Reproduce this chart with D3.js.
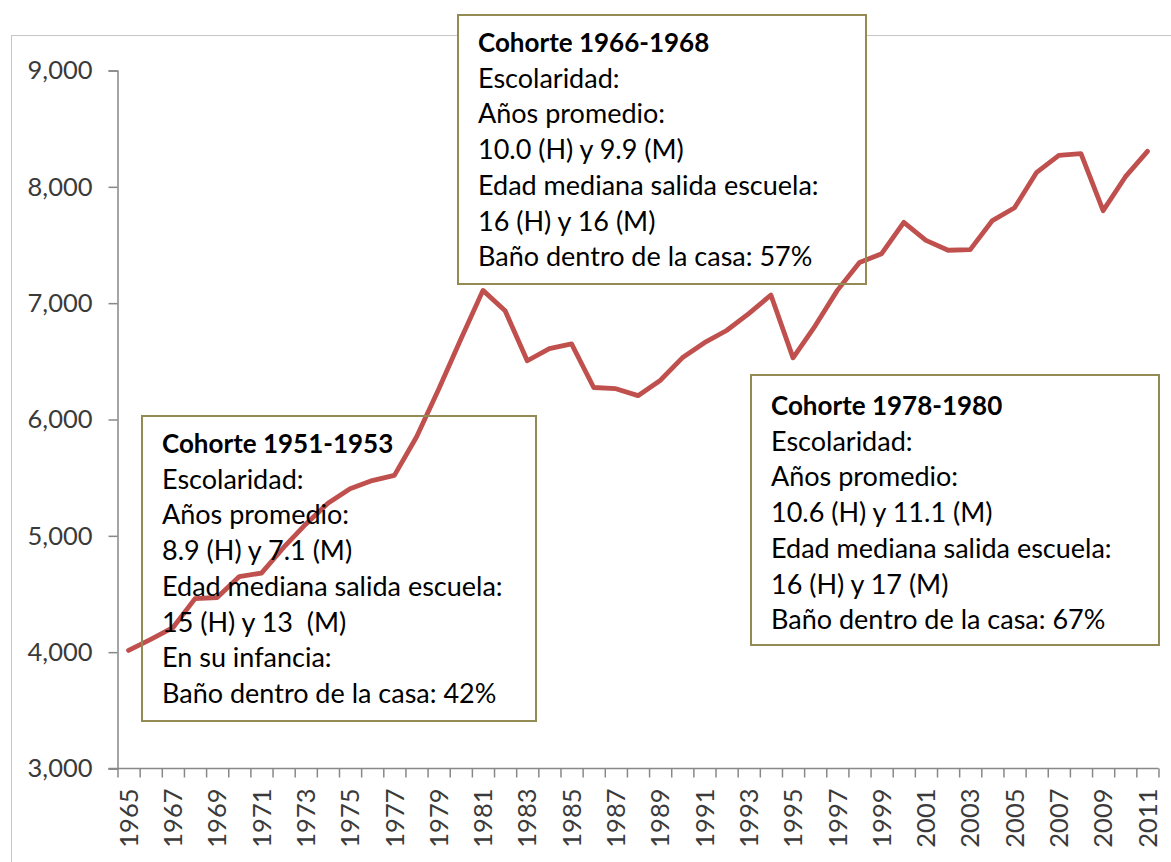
<!DOCTYPE html>
<html>
<head>
<meta charset="utf-8">
<script src="https://cdn.jsdelivr.net/npm/d3@7"></script>
<style>
  html, body { margin: 0; padding: 0; background: #fff; }
  svg { display: block; font-family: "Lato", "Open Sans", sans-serif; }
</style>
</head>
<body>
<svg id="chart" width="1171" height="862"></svg>
<script>
// ---- data ----
const years = ["1965","1966","1967","1968","1969","1970","1971","1972","1973","1974",
  "1975","1976","1977","1978","1979","1980","1981","1982","1983","1984",
  "1985","1986","1987","1988","1989","1990","1991","1992","1993","1994",
  "1995","1996","1997","1998","1999","2000","2001","2002","2003","2004",
  "2005","2006","2007","2008","2009","2010","2011"];
const values = [4015, 4110, 4210, 4460, 4470, 4650, 4680, 4900, 5100, 5280,
  5405, 5475, 5520, 5850, 6260, 6690, 7110, 6935, 6505, 6610,
  6650, 6275, 6265, 6205, 6335, 6530, 6660, 6765, 6910, 7070,
  6530, 6805, 7110, 7350, 7425, 7695, 7540, 7455, 7460, 7710,
  7820, 8125, 8270, 8285, 7795, 8085, 8305];
const yTicks = [3000, 4000, 5000, 6000, 7000, 8000, 9000];
const xLabelYears = years.filter((d, i) => i % 2 === 0);

const box1Lines = ["Cohorte 1951-1953", "Escolaridad:", "Años promedio:", "8.9 (H) y 7.1 (M)",
  "Edad mediana salida escuela:", "15 (H) y 13  (M)", "En su infancia:", "Baño dentro de la casa: 42%"];
const box2Lines = ["Cohorte 1966-1968", "Escolaridad:", "Años promedio:", "10.0 (H) y 9.9 (M)",
  "Edad mediana salida escuela:", "16 (H) y 16 (M)", "Baño dentro de la casa: 57%"];
const box3Lines = ["Cohorte 1978-1980", "Escolaridad:", "Años promedio:", "10.6 (H) y 11.1 (M)",
  "Edad mediana salida escuela:", "16 (H) y 17 (M)", "Baño dentro de la casa: 67%"];

// ---- layout ----
(function () {
const svg = d3.select("#chart");
const pLeft = 117.5, pRight = 1158.5, pTop = 70.5, pBottom = 768.5;

const x = d3.scaleBand().domain(years).range([pLeft, pRight]);
const xi = d3.scaleLinear().domain([0, years.length]).range([pLeft, pRight]);
const y = d3.scaleLinear().domain([3000, 9000]).range([pBottom, pTop]);

// outer chart border
svg.append("rect")
  .attr("x", 11.5).attr("y", 35.5).attr("width", 1300).attr("height", 1000)
  .attr("fill", "none").attr("stroke", "#c6c6c6").attr("stroke-width", 1);

const axisColor = "#888888";
const labelColor = "#3a3a3a";

// y axis
const gy = svg.append("g").attr("transform", `translate(${pLeft},0)`)
  .call(d3.axisLeft(y).tickValues(yTicks).tickSize(9).tickPadding(16)
    .tickFormat(d3.format(",")));
gy.select(".domain").attr("stroke", axisColor).attr("stroke-width", 1.5);
gy.selectAll(".tick line").attr("stroke", axisColor).attr("stroke-width", 1.5);
gy.selectAll(".tick text").attr("fill", labelColor)
  .style("font-size", "25.5px").style("font-family", "Lato");

// x axis: tick marks at category boundaries
const gxt = svg.append("g").attr("transform", `translate(0,${pBottom})`)
  .call(d3.axisBottom(xi).tickValues(d3.range(0, years.length + 1)).tickSize(9).tickFormat(""));
gxt.select(".domain").attr("stroke", axisColor).attr("stroke-width", 1.5)
  .attr("d", `M${pLeft - 9},0H${pRight}`);
gxt.selectAll(".tick line").attr("stroke", axisColor).attr("stroke-width", 1.5);

// x axis labels
const gx = svg.append("g").attr("transform", `translate(0,${pBottom})`)
  .call(d3.axisBottom(x).tickValues(xLabelYears).tickSize(0));
gx.select(".domain").remove();
gx.selectAll(".tick text")
  .attr("transform", "rotate(-90)")
  .attr("x", -20).attr("y", 0).attr("dy", "0.36em")
  .attr("text-anchor", "end")
  .attr("fill", labelColor)
  .style("font-size", "25.5px").style("font-family", "Lato");

// boxes (fills first)
const boxes = [
  { x0: 142, y0: 416, x1: 536, y1: 721, tx: 162, ty: 453, lines: box1Lines, fill: "none" },
  { x0: 458, y0: 15, x1: 866, y1: 284, tx: 478, ty: 52, lines: box2Lines, fill: "#ffffff" },
  { x0: 751, y0: 375, x1: 1159, y1: 645, tx: 771, ty: 415, lines: box3Lines, fill: "#ffffff" }
];
svg.selectAll("rect.boxfill").data(boxes).join("rect").attr("class", "boxfill")
  .attr("x", d => d.x0).attr("y", d => d.y0)
  .attr("width", d => d.x1 - d.x0).attr("height", d => d.y1 - d.y0)
  .attr("fill", d => d.fill).attr("stroke", "none");

// line
const line = d3.line().x((d, i) => x(years[i]) + x.bandwidth() / 2).y(d => y(d));
svg.append("path").datum(values)
  .attr("d", line).attr("fill", "none")
  .attr("stroke", "#c0504d").attr("stroke-width", 4.8)
  .attr("stroke-linejoin", "round").attr("stroke-linecap", "round");

// box borders and text
svg.selectAll("rect.boxstroke").data(boxes).join("rect").attr("class", "boxstroke")
  .attr("x", d => d.x0).attr("y", d => d.y0)
  .attr("width", d => d.x1 - d.x0).attr("height", d => d.y1 - d.y0)
  .attr("fill", "none").attr("stroke", "#948a54").attr("stroke-width", 2);

const lh = 35.7;
boxes.forEach(b => {
  const t = svg.append("text").attr("fill", "#000").style("font-family", "Lato");
  b.lines.forEach((s, i) => {
    t.append("tspan").attr("x", b.tx).attr("y", b.ty + i * lh)
      .attr("font-weight", i === 0 ? "bold" : "normal")
      .style("font-size", i === 0 ? "26px" : "27px")
      .style("white-space", "pre")
      .text(s);
  });
});
})();
</script>
</body>
</html>
